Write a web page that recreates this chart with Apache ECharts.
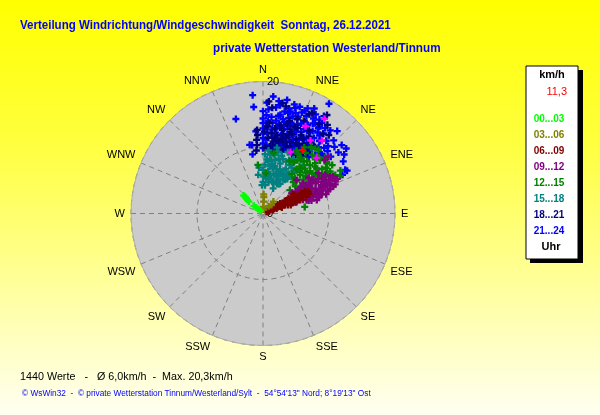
<!DOCTYPE html>
<html>
<head>
<meta charset="utf-8">
<script src="https://cdn.jsdelivr.net/npm/echarts@6/dist/echarts.min.js"></script>
<style>html,body{margin:0;padding:0;}#c{width:600px;height:415px;}</style>
</head>
<body>
<div id="c"></div>
<script>
// Direction tick labels (every 22.5°, clockwise from North)
const directions = ['N','NNE','NE','ENE','E','ESE','SE','SSE','S','SSW','SW','WSW','W','WNW','NW','NNW'];
// Time-range legend labels and colours
const hourLabels = ['00...03','03...06','06...09','09...12','12...15','15...18','18...21','21...24'];
const hourColors = ['#00ff00','#808000','#800000','#800080','#008000','#008080','#000080','#0000ff'];
// Each point: [direction in degrees, speed in km/h]
const h00_03 = [[313,4.0],[313,3.7],[312,3.4],[311,3.1],[310,2.8],[310,1.8],[311,1.4],[312,1.0],[314,0.6]];
const h03_06 = [[3,2.5],[3,1.8],[3,1.0],[2,2.9],[41,2.4],[45,1.8],[38,1.4],[10,0.6]];
const h06_09 = [[64,0.6],[63,1.2],[68,1.6],[62,2.0],[70,2.2],[68,2.8],[64,2.6],[66,3.2],[69,3.6],[62,3.4],[71,4.0],[66,4.5],[59,4.5],[69,4.9],[63,5.1],[60,5.6],[67,5.6],[68,6.6],[65,6.2],[71,5.2],[72,3.0],[60,3.0],[66,1.8],[70,1.0],[58,2.6],[64,4.0],[67,4.2],[61,4.2],[65,5.0],[62,6.0],[70,6.0],[66,7.0],[73,4.4],[58,5.4],
  [61,1.0],[67,0.9],[59,1.6],[71,1.6],[63,2.4],[67,2.4],[60,3.8],[65,3.6],[68,3.4],[62,4.6],[70,4.6],[64,5.6],[66,5.8],[69,5.8],[61,6.6],[64,6.8],[67,7.6],[64,7.6],[62,7.2],[69,7.0]];
const h09_12 = [[55,5.3],[71,5.4],[73,6.9],[76,8.4],[68,9.3],[66,11.1],[69,11.4],[53,7.6],[56,9.2],[45,7.2],[49,13.1],[58,11.1],[67,7.8],[61,6.4],[67,11.0],[62,10.1],[69,8.7],[68,6.1],[49,12.4],[62,12.0],[58,9.9],[60,8.0],[63,7.0],[65,8.8],[64,9.8],[59,6.8],[57,7.8],[66,6.6],[70,7.6],[72,9.4],[62,5.8],[64,4.6],[60,10.6],[54,10.4],[52,8.8],[74,7.2],[56,6.0],[67,10.2],[71,10.4],[65,12.4],
  [58,8.6],[60,9.2],[61,7.4],[63,8.2],[64,10.6],[65,9.8],[66,7.4],[67,8.6],[68,9.8],[69,7.0],[70,8.4],[71,9.2],[72,8.0],[73,10.0],[70,10.8],[68,11.8],[63,11.2],[61,11.6],[59,10.4],[57,8.8],[55,7.0],[57,6.6],[60,5.6],[62,6.6],[65,5.6],[68,5.0],[71,6.4],[74,8.8],[75,7.6],[66,12.0]];
const h12_15 = [[354,7.4],[10,9.3],[4,6.1],[27,8.9],[30,10.5],[33,9.6],[35,11.2],[37,8.4],[38,10.0],[40,11.6],[41,9.0],[43,9.3],[44,10.2],[44,8.1],[45,12.0],[46,11.0],[47,11.8],[48,9.6],[49,5.4],[49,8.6],[50,10.6],[51,12.4],[52,12.3],[53,11.2],[54,9.8],[55,8.4],[56,10.8],[57,10.3],[58,12.0],[60,11.7],[61,13.4],[59,9.4],[42,7.2],[36,7.4],[46,7.0],[52,7.6],[81,6.4],[39,12.6],[32,11.8],[28,10.8],[62,10.6],
  [38,9.0],[40,10.4],[42,8.4],[44,11.4],[47,9.0],[48,10.6],[50,8.0],[51,9.6],[53,10.0],[54,11.8],[55,12.8],[56,9.0],[57,11.6],[58,8.0],[59,10.8],[62,12.4],[63,11.6],[64,13.0],[34,10.2],[31,9.0],[36,12.4],[41,12.8],[48,12.6],[44,6.6],[50,6.4],[55,6.8],[60,7.2],[63,8.4],[66,9.6],[65,11.0]];
const h15_18 = [[2,7.4],[4,4.3],[358,4.3],[353,5.9],[0,4.8],[5,5.4],[7,6.4],[10,5.9],[8,7.2],[7,8.9],[13,8.3],[12,7.0],[15,6.2],[16,5.0],[21,7.1],[19,8.0],[22,4.1],[24,5.6],[25,6.6],[27,7.6],[29,8.4],[30,6.0],[33,6.1],[33,7.2],[35,9.9],[36,8.0],[18,9.2],[14,9.6],[26,9.0],[4,8.2],[3,6.2],[10,4.8],[20,6.0],[31,9.2],[38,7.0],[28,5.0],[12,10.2],[22,10.0],[2,9.0],
  [6,8.0],[9,8.2],[11,7.6],[14,7.4],[17,7.0],[18,6.2],[21,6.0],[23,6.8],[26,7.2],[28,6.4],[31,7.0],[32,8.2],[29,9.4],[24,8.6],[20,8.8],[16,8.6],[11,9.0],[8,5.6],[13,5.4],[18,5.0],[25,5.0],[30,5.2],[35,6.4],[38,8.2],[40,9.6],[5,9.6],[0,6.6],[355,7.0],[1,5.6]];
const h18_21 = [[356,12.7],[356,11.9],[355,11.2],[355,10.4],[354,9.6],[5,16.1],[26,16.9],[37,15.1],[40,15.5],[3,13.2],[4,11.5],[6,10.2],[8,11.0],[10,12.0],[11,10.4],[13,13.0],[14,11.6],[15,10.2],[17,12.0],[18,13.4],[19,10.8],[21,11.6],[22,14.0],[23,10.4],[25,11.8],[26,13.2],[28,12.8],[29,10.2],[31,11.4],[33,12.0],[35,10.6],[20,15.2],[16,14.6],[24,15.4],[12,16.6],[32,16.0],[8,13.0],[2,10.0],[38,12.8],
  [1,12.4],[4,13.8],[6,12.2],[9,11.6],[11,13.6],[12,11.2],[14,12.4],[16,11.2],[18,12.6],[20,12.8],[22,11.0],[24,12.4],[27,11.6],[30,12.2],[32,10.8],[34,13.0],[36,11.4],[5,9.8],[9,10.2],[17,9.8],[26,10.0],[20,14.0],[15,14.0],[29,14.4],[25,16.6],[36,16.6],[33,17.8],[10,17.0],[3,17.0],[31,13.6]];
const h21_24 = [[355,18.0],[355,16.2],[344,14.9],[5,17.8],[9,16.6],[15,16.0],[17,16.7],[19,17.1],[23,17.3],[26,17.7],[31,19.4],[46,20.3],[31,16.6],[33,15.7],[28,16.3],[39,16.2],[44,15.4],[49,15.8],[52,16.0],[51,14.7],[40,13.1],[38,13.9],[47,12.7],[50,13.4],[62,14.1],[63,14.3],[64,13.4],[349,10.6],[350,9.1],[355,12.5],[351,10.5],[0,15.5],[0,14.4],[0,13.7],[0,12.9],[0,12.1],[0,11.4],[0,10.6],[0,9.9],[5,14.7],[6,13.8],[6,12.8],[7,11.6],[7,10.5],[8,9.5],[14,15.7],
  [10,15.2],[12,14.6],[11,13.4],[13,12.2],[12,11.0],[15,15.0],[16,13.8],[17,12.6],[18,11.5],[19,14.2],[20,15.6],[21,13.0],[22,12.0],[23,14.8],[24,16.2],[25,13.6],[26,12.4],[27,15.0],[28,14.2],[29,11.6],[30,13.2],[31,14.6],[32,12.6],[33,15.4],[34,13.8],[35,12.2],[36,14.6],[37,11.8],[14,16.4],[18,16.0],[22,16.8],[9,12.4],[10,13.8],[20,10.8],[24,11.0],[27,10.6],[16,10.9],[13,10.0],[30,15.8],[41,14.6],[43,13.6],[45,12.6],[42,11.8],
  [2,16.8],[3,15.8],[2,14.9],[3,14.0],[2,13.2],[3,12.3],[2,11.2],[3,10.4],[8,17.2],[7,16.2],[9,15.0],[8,14.2],[9,13.1],[10,11.6],[10,10.2],[12,17.6],[12,15.8],[13,14.2],[14,13.2],[15,12.0],[14,10.8],[16,17.2],[17,15.4],[17,14.3],[19,13.0],[19,12.2],[18,10.2],[21,16.4],[21,14.4],[22,13.4],[23,11.4],[21,10.4],[25,15.2],[26,14.2],[27,13.0],[26,11.6],[25,10.4],[28,17.0],[29,15.6],[30,14.2],[29,12.8],[30,11.0],[32,17.4],[33,16.4],[34,14.8],[33,13.4],[34,11.6],[36,16.0],[37,15.2],[38,14.0],[37,12.8],[39,11.0],[42,16.8],[44,14.2],[47,14.8],[46,13.6],[54,15.2],[57,14.5],[43,12.6]];
const lastHour = [[33,17.1],[26,14.7],[33,13.2],[44,11.7],[24,10.2],[39,14.2]];
const current = [[32,11.3]];
const currentLabel = '11,3';
const summary = '1440 Werte   -   Ø 6,0km/h  -  Max. 20,3km/h';
const footer = '© WsWin32  -  © private Wetterstation Tinnum/Westerland/Sylt  -  54°54\'13" Nord; 8°19\'13" Ost';
const title1 = 'Verteilung Windrichtung/Windgeschwindigkeit  Sonntag, 26.12.2021';
const title2 = 'private Wetterstation Westerland/Tinnum';

const chart = echarts.init(document.getElementById('c'));
const arial = "Arial, 'Liberation Sans', sans-serif";
const plus = 'path://M2,0H4V2H6V4H4V6H2V4H0V2H2Z';
const toPolar = arr => arr.map(p => [p[1], p[0]]);
const mk = (data, color) => ({
  type: 'scatter', coordinateSystem: 'polar', data: toPolar(data),
  symbol: plus, symbolSize: 7, itemStyle: {color: color, opacity: 1},
  silent: true, animation: false
});
// drawing order: late hours first, early hours on top
const seriesData = [h21_24, h18_21, h15_18, h12_15, h09_12, h06_09, h03_06, h00_03];
const seriesColors = ['#0000ff','#000080','#008080','#008000','#800080','#800000','#808000','#00ff00'];
const series = seriesData.map((d, i) => mk(d, seriesColors[i]));
series.push(mk(lastHour, '#ff00ff'));
series.push(mk(current, '#ff0000'));

const txt = (x, y, text, fill, font, align, sx) => ({
  type: 'text', z: 20, x: x, y: y, scaleX: sx || 1,
  style: {x: 0, y: 0, text: text, fill: fill, font: font, textAlign: align || 'left', textVerticalAlign: 'middle'}
});
const legendTexts = [
  txt(552, 75, 'km/h', '#000', 'bold 11px ' + arial, 'center'),
  txt(567, 92, currentLabel, '#ff0000', '11px ' + arial, 'right')
];
hourLabels.forEach((t, i) => legendTexts.push(txt(549, 119 + i * 16, t, hourColors[i], 'bold 10px ' + arial, 'center')));
legendTexts.push(txt(551, 247, 'Uhr', '#000', 'bold 11px ' + arial, 'center'));

chart.setOption({
  animation: false,
  backgroundColor: new echarts.graphic.LinearGradient(0, 0, 0, 1, [
    {offset: 0, color: '#ffff00'}, {offset: 0.35, color: '#ffff40'}, {offset: 1, color: '#fffff2'}
  ]),
  polar: {center: [263, 213.5], radius: 132},
  angleAxis: {
    type: 'value', min: 0, max: 360, interval: 22.5, startAngle: 90, clockwise: true,
    axisLine: {show: true, lineStyle: {color: '#b0b0b0', width: 1}},
    axisTick: {show: false},
    axisLabel: {
      margin: 6, color: '#000', fontSize: 11, fontFamily: arial,
      formatter: v => (v >= 360 ? '' : directions[Math.round(v / 22.5) % 16])
    },
    splitLine: {show: true, lineStyle: {color: '#808080', type: [5, 4], width: 1}}
  },
  radiusAxis: {
    type: 'value', min: 0, max: 20, interval: 10,
    axisLine: {show: false}, axisTick: {show: false},
    axisLabel: {
      margin: -4, align: 'left', color: '#000', fontSize: 11, fontFamily: arial,
      formatter: v => (v === 10 ? '' : String(v))
    },
    splitLine: {show: true, lineStyle: {color: '#808080', type: [5, 4], width: 1}}
  },
  graphic: [
    {type: 'circle', z: -10, shape: {cx: 263, cy: 213.5, r: 132}, style: {fill: '#cbcbcb'}, silent: true},
    txt(20, 25, title1, '#0000ff', 'bold 13px ' + arial, 'left', 0.887),
    txt(213, 48, title2, '#0000ff', 'bold 13px ' + arial, 'left', 0.90),
    {type: 'rect', z: 18, shape: {x: 530, y: 70, width: 53, height: 193}, style: {fill: '#000'}},
    {type: 'rect', z: 19, shape: {x: 526, y: 66, width: 52, height: 193}, style: {fill: '#fff', stroke: '#000', lineWidth: 1}},
    ...legendTexts,
    txt(20, 377, summary, '#000', '11px ' + arial, 'left', 0.978),
    txt(22, 394, footer, '#0000ff', '8.3px ' + arial, 'left')
  ],
  series: series
});
</script>
</body>
</html>
